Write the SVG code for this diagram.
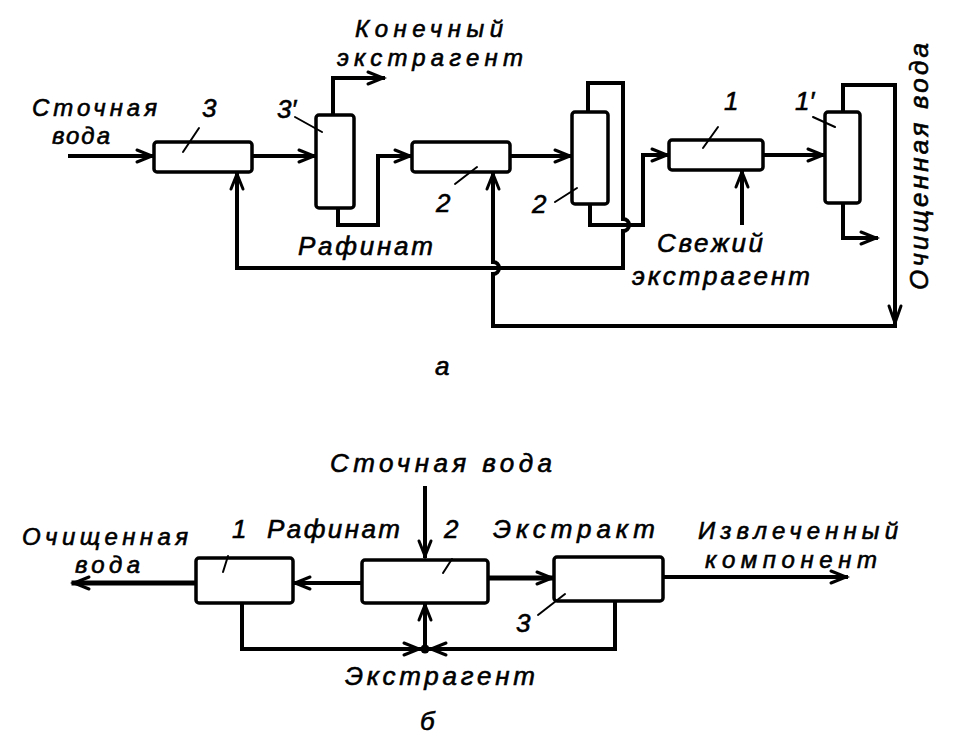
<svg xmlns="http://www.w3.org/2000/svg" width="970" height="750" viewBox="0 0 970 750">
<defs>
<style>
.box{fill:#fff;stroke:#000;stroke-width:3.5;stroke-linejoin:round}
.ln{fill:none;stroke:#000;stroke-width:4;stroke-linejoin:miter;stroke-linecap:square}
.thk{stroke-width:5}
.ld{fill:none;stroke:#000;stroke-width:2;stroke-linecap:round}
.ah{fill:none;stroke:#000;stroke-width:3;stroke-linecap:round;stroke-linejoin:miter}
text{font-family:"Liberation Sans","DejaVu Sans",sans-serif;font-style:italic;font-size:26px;fill:#000;stroke:#000;stroke-width:0.6}
.two{font-size:24px}
.num{font-size:26px}
</style>
<marker id="arr" viewBox="-16 -8 18 16" refX="0" refY="0" markerWidth="18" markerHeight="16" markerUnits="userSpaceOnUse" orient="auto" overflow="visible">
<path d="M-15,-6 L0,0 L-15,6" fill="none" stroke="#000" stroke-width="3" stroke-linecap="round"/>
</marker>
</defs>
<rect width="970" height="750" fill="#fff"/>

<!-- ===== Diagram a ===== -->
<g id="connectors-a">
<path class="ln" d="M70,156 H152" marker-end="url(#arr)"/>
<path class="ln" d="M252,156 H314" marker-end="url(#arr)"/>
<path class="ln" d="M333,115 V78 H383" marker-end="url(#arr)"/>
<path class="ln" d="M338,208 V225 H378 V156 H410" marker-end="url(#arr)"/>
<path class="ln" d="M510,156 H570" marker-end="url(#arr)"/>
<path class="ln" d="M588,112 V83 H623 V219 A6,6 0 0 1 623,231 V268 H237 V174" marker-end="url(#arr)"/>
<path class="ln" d="M590,204 V225 H643 V155 H667" marker-end="url(#arr)"/>
<path class="ln" d="M742,223 V172" marker-end="url(#arr)"/>
<path class="ln" d="M763,155 H823" marker-end="url(#arr)"/>
<path class="ln" d="M843,112 V85 H895 V326 H493 V274 A6,6 0 0 0 493,262 V174" marker-end="url(#arr)"/>
<path class="ah" d="M889,306 L895,323 L901,306"/>
<path class="ln" d="M843,203 V238 H876" marker-end="url(#arr)"/>
</g>

<g id="node-3">
<rect class="box" x="154" y="142" width="98" height="30" rx="3"/>
<path class="ld" d="M183,152 L199,128"/>
<text class="num" x="202" y="117">3</text>
</g>
<g id="node-3prime">
<rect class="box" x="316" y="115" width="38" height="93" rx="3"/>
<path class="ld" d="M295,117 L322,132"/>
<text class="num" x="277" y="118">3′</text>
</g>
<g id="node-2">
<rect class="box" x="412" y="142" width="98" height="30" rx="3"/>
<path class="ld" d="M455,184 L477,167"/>
<text class="num" x="436" y="212">2</text>
</g>
<g id="node-2prime">
<rect class="box" x="572" y="112" width="36" height="92" rx="3"/>
<path class="ld" d="M555,202 L577,188"/>
<text class="num" x="532" y="213">2</text>
</g>
<g id="node-1">
<rect class="box" x="669" y="140" width="94" height="30" rx="3"/>
<path class="ld" d="M703,148 L718,127"/>
<text class="num" x="724" y="110">1</text>
</g>
<g id="node-1prime">
<rect class="box" x="825" y="112" width="35" height="91" rx="3"/>
<path class="ld" d="M813,117 L835,127"/>
<text class="num" x="795" y="110">1′</text>
</g>

<g id="labels-a">
<text class="two" x="32" y="116" textLength="125" lengthAdjust="spacing">Сточная</text>
<text class="two" x="52" y="144" textLength="58" lengthAdjust="spacing">вода</text>
<text class="two" x="355" y="37" textLength="148" lengthAdjust="spacing">Конечный</text>
<text class="two" x="337" y="66" textLength="186" lengthAdjust="spacing">экстрагент</text>
<text x="298" y="255" textLength="135" lengthAdjust="spacing">Рафинат</text>
<text x="657" y="252" textLength="106" lengthAdjust="spacing">Свежий</text>
<text x="632" y="285" textLength="178" lengthAdjust="spacing">экстрагент</text>
<text transform="translate(928,290) rotate(-90)" x="0" y="0" textLength="247" lengthAdjust="spacing">Очищенная вода</text>
<text x="435" y="375">а</text>
</g>

<!-- ===== Diagram б ===== -->
<g id="connectors-b">
<path class="ln" d="M425,488 V556" marker-end="url(#arr)"/>
<path class="ln" d="M362,583 H295" marker-end="url(#arr)"/>
<path class="ln thk" d="M196,583 H74" marker-end="url(#arr)"/>
<path class="ln thk" d="M488,578 H552" marker-end="url(#arr)"/>
<path class="ln" d="M663,577 H846" marker-end="url(#arr)"/>
<path class="ln" d="M242,603 V649 H419" marker-end="url(#arr)"/>
<path class="ln" d="M615,601 V649 H431" marker-end="url(#arr)"/>
<path class="ln" d="M425,649 V605" marker-end="url(#arr)"/>
<circle cx="425" cy="649" r="4.5" fill="#000"/>
</g>

<g id="node-b1">
<rect class="box" x="196" y="558" width="97" height="45" rx="3"/>
<path class="ld" d="M223,572 L228,556"/>
<text class="num" x="232" y="538">1</text>
</g>
<g id="node-b2">
<rect class="box" x="362" y="560" width="126" height="43" rx="3"/>
<path class="ld" d="M443,573 L452,559"/>
<text class="num" x="444" y="538">2</text>
</g>
<g id="node-b3">
<rect class="box" x="554" y="557" width="109" height="44" rx="3"/>
<path class="ld" d="M538,615 L565,594"/>
<text class="num" x="516" y="632">3</text>
</g>

<g id="labels-b">
<text x="330" y="472" textLength="222" lengthAdjust="spacing">Сточная вода</text>
<text class="two" x="22" y="545" textLength="166" lengthAdjust="spacing">Очищенная</text>
<text class="two" x="75" y="573" textLength="65" lengthAdjust="spacing">вода</text>
<text x="267" y="538" textLength="133" lengthAdjust="spacing">Рафинат</text>
<text x="493" y="538" textLength="162" lengthAdjust="spacing">Экстракт</text>
<text class="two" x="698" y="539" textLength="200" lengthAdjust="spacing">Извлеченный</text>
<text class="two" x="705" y="568" textLength="172" lengthAdjust="spacing">компонент</text>
<text x="345" y="685" textLength="190" lengthAdjust="spacing">Экстрагент</text>
<text x="420" y="730">б</text>
</g>
</svg>
